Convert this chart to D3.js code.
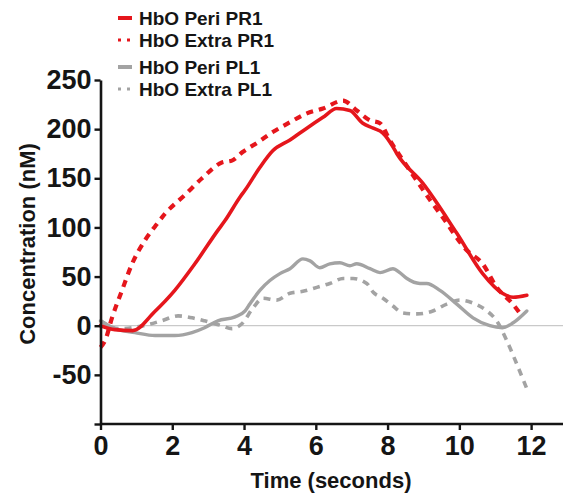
<!DOCTYPE html>
<html>
<head>
<meta charset="utf-8">
<script src="https://cdn.jsdelivr.net/npm/d3@7/dist/d3.min.js"></script>
<style>
  html, body { margin: 0; padding: 0; background: #fff; }
  svg { display: block; font-family: "Liberation Sans", Arial, sans-serif; }
</style>
</head>
<body>
<svg id="chart" width="563" height="495"></svg>
<script>
// ---- Data ----
const seriesNames = ["HbO Peri PR1", "HbO Extra PR1", "HbO Peri PL1", "HbO Extra PL1"];

const periPR1Time  = [0, 0.4, 0.9, 1.5, 2.07, 2.63, 3.27, 3.47, 3.89, 4.03, 4.44, 4.8, 5.28, 5.75, 6.2, 6.58, 6.95, 7.31, 7.6, 7.87, 8.15, 8.26, 8.98, 9.93, 10.65, 11.2, 11.5, 11.88];
const periPR1Value = [0, -4, -5, 14, 36, 63, 97, 107, 131, 138, 161, 178, 189, 201, 212, 221, 219, 206, 201, 196, 182, 175, 145, 94, 53, 33, 29, 31];

const extraPR1Time  = [0, 0.13, 0.32, 0.6, 0.88, 1.24, 1.52, 1.8, 2.35, 2.83, 3.38, 3.66, 3.97, 4.36, 4.8, 5.28, 5.75, 6.2, 6.76, 7.14, 7.51, 7.79, 8.06, 8.62, 9.18, 9.54, 10.2, 10.65, 11.04, 11.49, 11.74];
const extraPR1Value = [-22, -15, 8, 36, 63, 87, 101, 114, 133, 150, 166, 168, 177, 186, 197, 207, 216, 221, 229, 219, 209, 206, 189, 158, 128, 110, 77, 63, 39, 22, 10];

const periPL1Time  = [0, 0.4, 0.96, 1.52, 2.07, 2.55, 2.9, 3.27, 3.75, 4.03, 4.16, 4.44, 4.72, 5.0, 5.28, 5.64, 5.84, 6.11, 6.39, 6.67, 6.95, 7.14, 7.51, 7.79, 8.15, 8.34, 8.54, 8.9, 9.09, 9.46, 9.93, 10.38, 10.85, 11.2, 11.5, 11.88];
const periPL1Value = [5, -3, -7, -10, -10, -7, -2, 5, 9, 15, 22, 36, 46, 53, 58, 68, 66, 59, 63, 64, 61, 63, 58, 54, 58, 54, 48, 43, 43, 36, 22, 8, 0, -2, 3, 15];

const extraPL1Time  = [0, 0.5, 1.2, 1.7, 2.16, 2.55, 2.9, 3.38, 3.66, 3.94, 4.25, 4.53, 4.91, 5.28, 5.64, 6.03, 6.39, 6.76, 7.04, 7.42, 7.6, 7.87, 8.15, 8.43, 8.82, 9.26, 9.65, 10.01, 10.38, 10.77, 11.04, 11.32, 11.6, 11.88];
const extraPL1Value = [5, -3, 0, 5, 10, 8, 5, 0, -3, 2, 18, 28, 26, 33, 35, 39, 43, 48, 48, 43, 34, 28, 20, 13, 12, 15, 22, 26, 23, 15, 5, -15, -39, -64];

const xTicks = [0, 2, 4, 6, 8, 10, 12];
const yTicks = [-50, 0, 50, 100, 150, 200, 250];
const xTitle = "Time (seconds)";
const yTitle = "Concentration (nM)";

// ---- Chart ----
const svg = d3.select("#chart");
const x = d3.scaleLinear().domain([0, 13]).range([100.5, 567]);
const y = d3.scaleLinear().domain([-100, 250]).range([424, 80]);

const RED = "#e5161c", GRAY = "#a3a3a3", INK = "#151515";

// zero reference line
svg.append("line")
  .attr("x1", x(0)).attr("x2", 563)
  .attr("y1", y(0)).attr("y2", y(0))
  .attr("stroke", "#c9c9c9").attr("stroke-width", 1.2);

const series = [
  { t: periPR1Time,  v: periPR1Value,  color: RED,  width: 3.6, dash: null },
  { t: extraPR1Time, v: extraPR1Value, color: RED,  width: 4.2, dash: "7,6" },
  { t: periPL1Time,  v: periPL1Value,  color: GRAY, width: 3.4, dash: null },
  { t: extraPL1Time, v: extraPL1Value, color: GRAY, width: 3.6, dash: "7,6" }
];

const line = d3.line()
  .x(d => x(d[0])).y(d => y(d[1]))
  .curve(d3.curveMonotoneX);

// draw gray first, red on top
[3, 2, 1, 0].forEach(i => {
  const s = series[i];
  svg.append("path")
    .datum(s.t.map((t, k) => [t, s.v[k]]))
    .attr("d", line)
    .attr("fill", "none")
    .attr("stroke", s.color)
    .attr("stroke-width", s.width)
    .attr("stroke-dasharray", s.dash)
    .attr("stroke-linejoin", "round")
    .attr("stroke-linecap", s.dash ? "butt" : "round");
});

// axes
const xAxis = svg.append("g")
  .attr("transform", `translate(0,${y(-100)})`)
  .call(d3.axisBottom(x).tickValues(xTicks).tickSize(6).tickPadding(6).tickSizeOuter(0));
const yAxis = svg.append("g")
  .attr("transform", `translate(${x(0)},0)`)
  .call(d3.axisLeft(y).tickValues(yTicks.concat([-100])).tickSize(6).tickPadding(3).tickSizeOuter(0)
    .tickFormat(d => d === -100 ? "" : d));

[xAxis, yAxis].forEach(g => {
  g.select(".domain").attr("stroke", INK).attr("stroke-width", 2.6);
  g.selectAll(".tick line").attr("stroke", INK).attr("stroke-width", 2.4);
  g.selectAll(".tick text")
    .attr("fill", INK)
    .style("font-family", "'Liberation Sans', Arial, sans-serif")
    .style("font-weight", "bold")
    .style("font-size", "27px");
});
xAxis.select(".domain").attr("d", `M${x(0)},0H563`);

// axis titles
svg.append("text")
  .attr("x", 331).attr("y", 488)
  .attr("text-anchor", "middle")
  .attr("fill", INK)
  .style("font-weight", "bold").style("font-size", "22px")
  .text(xTitle);
svg.append("text")
  .attr("transform", `translate(35,244) rotate(-90)`)
  .attr("text-anchor", "middle")
  .attr("fill", INK)
  .style("font-weight", "bold").style("font-size", "22px")
  .text(yTitle);

// legend
const legendY = [18, 40, 67, 89];
series.forEach((s, i) => {
  const g = svg.append("g").attr("transform", `translate(0,${legendY[i]})`);
  if (s.dash) {
    g.append("line").attr("x1", 118).attr("x2", 133).attr("y1", 0).attr("y2", 0)
      .attr("stroke", s.color).attr("stroke-width", 3).attr("stroke-dasharray", "3,6");
  } else {
    g.append("line").attr("x1", 118).attr("x2", 132).attr("y1", 0).attr("y2", 0)
      .attr("stroke", s.color).attr("stroke-width", 4);
  }
  g.append("text")
    .attr("x", 139).attr("y", 0).attr("dy", "0.35em")
    .attr("fill", INK)
    .style("font-weight", "bold").style("font-size", "19px")
    .text(seriesNames[i]);
});
</script>
</body>
</html>
